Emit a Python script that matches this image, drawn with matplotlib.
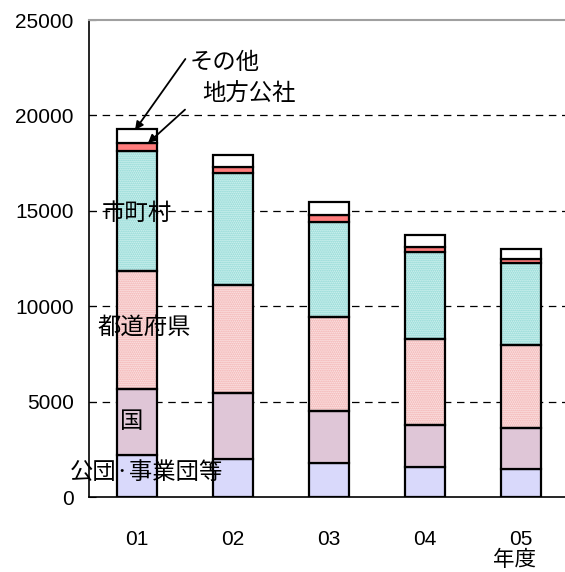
import matplotlib
matplotlib.use("Agg")
import matplotlib.pyplot as plt
import numpy as np

# Stacked totals by fiscal year
years = ["01", "02", "03", "04", "05"]
kodan = [2200, 1990, 1765, 1555, 1450]       # 公団·事業団等
kuni = [3460, 3440, 2745, 2205, 2180]        # 国
todofuken = [6200, 5670, 4920, 4520, 4340]   # 都道府県
shichoson = [6270, 5860, 5000, 4580, 4280]   # 市町村
kosha = [410, 350, 350, 230, 210]            # 地方公社
sonota = [750, 610, 700, 640, 520]           # その他

jp = ["Noto Sans CJK JP", "DejaVu Sans"]
plt.rcParams["font.family"] = ["Liberation Sans", "DejaVu Sans"]
plt.rcParams["hatch.linewidth"] = 0.9

# (values, facecolor, hatch, hatch colour)
layers = [
    (kodan, "#d9d9fb", None, None),
    (kuni, "#dfc6d7", None, None),
    (todofuken, "#fbe6e6", "........", "#f2a8a8"),
    (shichoson, "#d2f2f0", "........", "#84d4d0"),
    (kosha, "#ff7c7c", None, None),
    (sonota, "#ffffff", None, None),
]

fig = plt.figure(figsize=(5.65, 5.72), dpi=100)
ax = fig.add_axes([0.1575, 0.131, 0.8425, 0.834])

x = np.arange(len(years))
width = 0.42
bottom = np.zeros(len(years))
for vals, fc, hatch, hc in layers:
    vals = np.array(vals, dtype=float)
    if hatch:
        ax.bar(x, vals, width, bottom=bottom, color=fc, hatch=hatch,
               edgecolor=hc, linewidth=0, zorder=2)
        ax.bar(x, vals, width, bottom=bottom, fill=False,
               edgecolor="black", linewidth=1.6, zorder=3)
    else:
        ax.bar(x, vals, width, bottom=bottom, color=fc,
               edgecolor="black", linewidth=1.6, zorder=3)
    bottom += vals

ax.set_xlim(-0.5, 4.46)
ax.set_ylim(0, 25000)
ax.set_yticks(np.arange(0, 25001, 5000))
ax.set_xticks(x)
ax.set_xticklabels(years)
ax.tick_params(axis="y", direction="in", length=5, labelsize=15, pad=11)
ax.tick_params(axis="x", length=0, labelsize=15, pad=24)

for y in range(5000, 25000, 5000):
    ax.axhline(y, color="black", lw=0.9, ls=(0, (6, 4.5)), zorder=1)

ax.spines["right"].set_visible(False)
ax.spines["top"].set_color("#a0a0a0")
ax.spines["top"].set_linewidth(1.5)
ax.spines["left"].set_linewidth(1.2)
ax.spines["bottom"].set_linewidth(1.2)

# Segment names on the first bar
fs = 16.8
ax.text(0.0, 14885, "市町村", family=jp, fontsize=fs, ha="center", va="center", zorder=4)
ax.text(0.08, 8910, "都道府県", family=jp, fontsize=fs, ha="center", va="center", zorder=4)
ax.text(-0.05, 3983, "国", family=jp, fontsize=fs, ha="center", va="center", zorder=4)
ax.text(0.10, 1310, "公団·事業団等", family=jp, fontsize=fs, ha="center", va="center", zorder=4)

# Callouts for the thin top layers
ax.annotate("その他", xy=(-0.02, 19235), xytext=(0.55, 22800), family=jp, fontsize=fs,
            ha="left", va="center", zorder=4,
            arrowprops=dict(arrowstyle="-|>", color="black", lw=1.3,
                            shrinkA=2, shrinkB=0, mutation_scale=12,
                            relpos=(0, 0.9)))
ax.annotate("地方公社", xy=(0.115, 18550), xytext=(0.68, 21120), family=jp, fontsize=fs,
            ha="left", va="center", zorder=4,
            arrowprops=dict(arrowstyle="-|>", color="black", lw=1.3,
                            shrinkA=14, shrinkB=0, mutation_scale=12,
                            relpos=(0, 0.5)))

fig.text(515 / 565, 1 - 560 / 572, "年度", family=jp, fontsize=15.5, ha="center", va="center")

fig.savefig("out.png", dpi=100)
